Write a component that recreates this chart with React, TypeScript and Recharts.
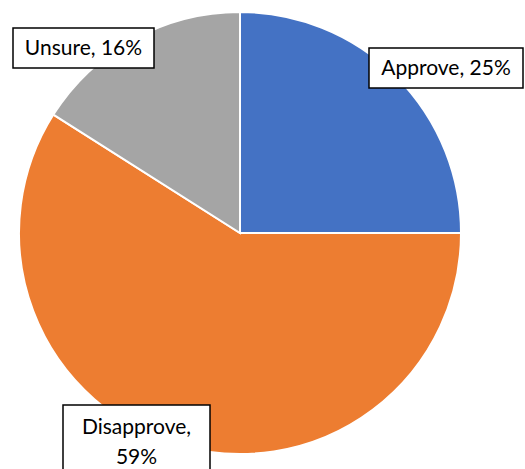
import React from "react";
import { PieChart, Pie, Cell } from "recharts";

const categories = ["Approve", "Disapprove", "Unsure"];
const values = [25, 59, 16];
const colors = ["#4472C4", "#ED7D31", "#A5A5A5"];
// label box placement relative to pie center (layout, not data)
const labelBoxes = [
  { dx: 129, dy: -185, w: 154, h: 40 },
  { dx: -177, dy: 172, w: 147, h: 72 },
  { dx: -227, dy: -205, w: 141, h: 40 },
];

const data = categories.map((c, i) => ({ name: c, value: values[i] }));

const FONT = "Lato, Carlito, Calibri, sans-serif";

const renderLabel = (props: any) => {
  const { cx, cy, index, name, value } = props;
  const b = labelBoxes[index];
  const x = cx + b.dx;
  const y = cy + b.dy;
  const text = `${name}, ${value}%`;
  const twoLine = b.h > 50;
  return (
    <g>
      <rect x={x} y={y} width={b.w} height={b.h} fill="#fff" stroke="#000" strokeWidth={1.5} />
      {twoLine ? (
        <text x={x + b.w / 2} textAnchor="middle" fontFamily={FONT} fontSize={21} fill="#000">
          <tspan x={x + b.w / 2} y={y + 29}>{`${name},`}</tspan>
          <tspan x={x + b.w / 2} y={y + 59}>{`${value}%`}</tspan>
        </text>
      ) : (
        <text x={x + b.w / 2} y={y + b.h / 2 + 7} textAnchor="middle" fontFamily={FONT} fontSize={21} fill="#000">
          {text}
        </text>
      )}
    </g>
  );
};

export default function App() {
  return (
    <div style={{ position: "absolute", left: 0, top: 0, width: 525, height: 469, background: "#fff" }}>
      <PieChart width={525} height={469} margin={{ top: 0, right: 0, bottom: 0, left: 0 }}>
        <Pie
          data={data}
          dataKey="value"
          nameKey="name"
          cx={240}
          cy={233}
          outerRadius={221}
          startAngle={90}
          endAngle={-270}
          stroke="#fff"
          strokeWidth={2}
          label={renderLabel}
          labelLine={false}
          isAnimationActive={false}
        >
          {data.map((d, i) => (
            <Cell key={d.name} fill={colors[i]} />
          ))}
        </Pie>
      </PieChart>
    </div>
  );
}
